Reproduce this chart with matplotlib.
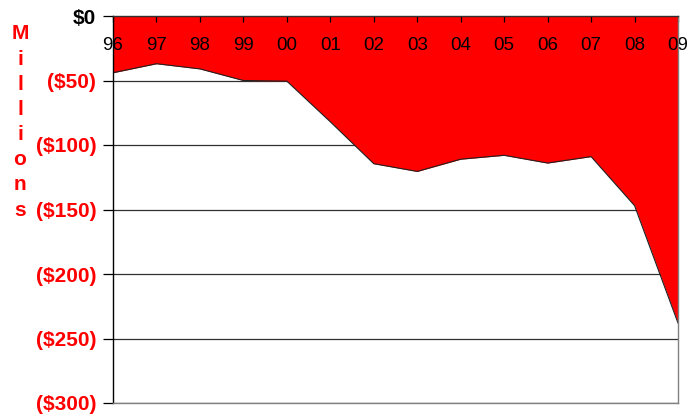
import matplotlib
matplotlib.use("Agg")
from matplotlib import pyplot as plt
import numpy as np

plt.rcParams['font.family'] = ['Liberation Sans', 'DejaVu Sans']

years = ['96', '97', '98', '99', '00', '01', '02', '03', '04', '05', '06', '07', '08', '09']
balance = [-44, -37, -41, -50, -50.5, -82, -114.5, -120.5, -111, -108, -114, -109, -147, -238]
yticks = [0, -50, -100, -150, -200, -250, -300]
ylabels = ['$0', '($50)', '($100)', '($150)', '($200)', '($250)', '($300)']

fig = plt.figure(figsize=(6.89, 4.16), dpi=100)
ax = fig.add_axes([113/689, 13/416, 565/689, 387/416])
ax.set_axisbelow(False)

x = np.arange(len(years))
ax.fill_between(x, balance, 0, color='#ff0000', lw=0, zorder=2)
ax.plot(x, balance, color='#202020', lw=0.8, zorder=2.2)

ax.set_xlim(0, len(years) - 1)
ax.set_ylim(-300, 0)

# gridlines under the fill
for v in yticks[1:]:
    ax.axhline(v, color='#303030', lw=0.9, zorder=1)

ax.set_yticks(yticks)
ax.set_yticklabels(ylabels, fontsize=15, fontweight='bold')
for lbl in ax.get_yticklabels():
    lbl.set_color('#ff0000')
ax.get_yticklabels()[0].set_color('black')
ax.tick_params(axis='y', direction='out', length=7, width=0.9, pad=5)

ax.set_xticks(x)
ax.set_xticklabels(years, fontsize=13.5)
ax.tick_params(axis='x', bottom=False, labelbottom=False, top=True, labeltop=True,
               direction='in', length=4, width=0.9, pad=-27)

ax.spines['left'].set_color('black')
ax.spines['top'].set_color('#303030')
ax.spines['right'].set_color('#808080')
ax.spines['bottom'].set_color('#808080')
for s in ax.spines.values():
    s.set_linewidth(1)
    s.set_zorder(4)

fig.text(20/689, 1 - 122/416, '\n'.join('Millions'), color='#ff0000', fontsize=15,
         fontweight='bold', ha='center', va='center', linespacing=1.41)

fig.savefig('out.png', dpi=100)
